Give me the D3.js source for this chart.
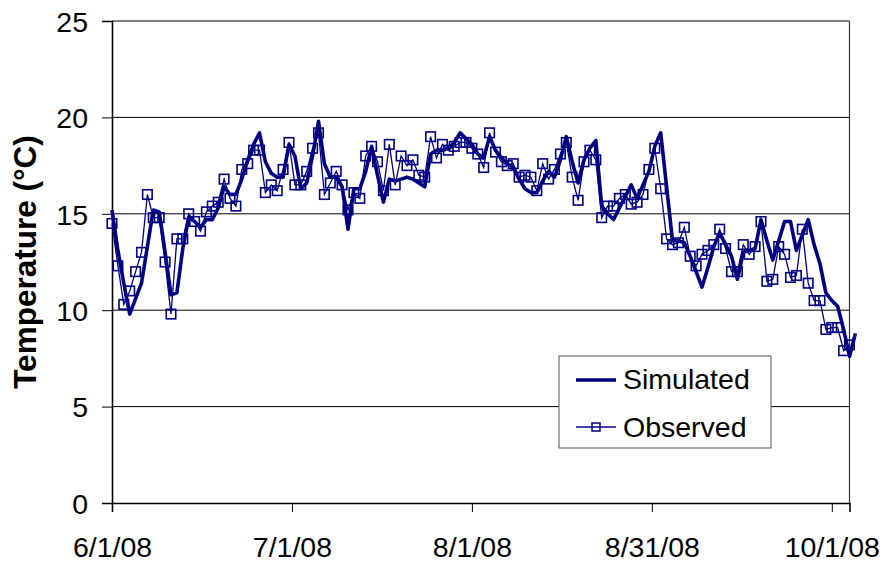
<!DOCTYPE html>
<html>
<head>
<meta charset="utf-8">
<script src="https://cdnjs.cloudflare.com/ajax/libs/d3/7.8.5/d3.min.js"></script>
<style>
  body { margin: 0; background: #fff; }
  svg { display: block; }
  text { font-family: "Liberation Sans", Arial, sans-serif; fill: #000; }
</style>
</head>
<body>
<script>
// daily values starting 6/1/08 (index = day number)
var simulated = [
  15.2, 13.1, 11.4, 9.8, 10.6, 11.4, 13.3, 15.2, 15.1, 13.0,
  10.8, 10.9, 13.2, 14.8, 14.6, 14.3, 14.7, 14.7, 15.3, 16.4,
  16.0, 16.0, 16.8, 17.8, 18.6, 19.2, 17.7, 17.1, 16.9, 16.9,
  18.6, 18.0, 16.3, 16.6, 18.0, 19.8, 17.6, 16.9, 16.9, 16.4,
  14.2, 16.3, 16.3, 17.2, 18.5, 17.0, 15.6, 16.8, 16.7, 16.8,
  16.9, 16.8, 16.6, 16.4, 18.1, 18.3, 18.3, 18.4, 18.7, 19.2,
  18.9, 18.6, 18.1, 17.9, 19.0, 18.3, 17.9, 17.6, 17.4, 16.8,
  16.3, 16.1, 16.1, 16.7, 17.2, 16.9, 17.8, 19.0, 17.7, 16.6,
  17.8, 18.4, 18.8, 15.4, 15.0, 14.7, 15.3, 15.9, 16.5, 15.8,
  16.5, 17.2, 18.5, 19.2, 16.4, 13.6, 13.6, 13.5, 12.8, 12.0,
  11.2, 12.2, 13.3, 14.0, 13.4, 12.8, 11.6, 13.0, 13.1, 13.2,
  14.7, 13.6, 12.6, 13.6, 14.6, 14.6, 13.1, 13.9, 14.7, 13.4,
  12.4, 10.9, 10.5, 10.2, 9.0, 7.6, 8.8
];
var observed = [
  14.5, 12.3, 10.3, 11.0, 12.0, 13.0, 16.0, 14.8, 14.8, 12.5,
  9.8, 13.7, 13.7, 15.0, 14.6, 14.1, 15.1, 15.4, 15.6, 16.8,
  15.8, 15.4, 17.3, 17.6, 18.3, 18.3, 16.1, 16.5, 16.2, 17.3,
  18.7, 16.5, 16.5, 17.2, 18.4, 19.2, 16.0, 16.6, 17.2, 16.5,
  15.2, 16.1, 15.8, 18.0, 18.5, 17.7, 16.2, 18.6, 16.5, 18.0,
  17.5, 17.8, 17.0, 16.9, 19.0, 17.9, 18.6, 18.3, 18.5, 18.7,
  18.7, 18.4, 18.1, 17.4, 19.2, 18.2, 17.7, 17.5, 17.6, 16.9,
  17.0, 16.9, 16.2, 17.6, 16.8, 17.3, 18.1, 18.7, 16.9, 15.7,
  17.7, 18.3, 17.8, 14.8, 15.4, 15.4, 15.8, 16.0, 15.5, 15.6,
  16.0, 17.3, 18.4, 16.3, 13.7, 13.4, 13.5, 14.3, 12.8, 12.3,
  12.9, 13.1, 13.4, 14.2, 13.2, 12.0, 12.0, 13.4, 12.9, 13.3,
  14.6, 11.5, 11.6, 13.3, 12.9, 11.7, 11.8, 14.2, 11.4, 10.5,
  10.5, 9.0, 9.1, 9.1, 7.9, 8.2
];
var xTickDays = [0, 30.5, 61, 91.5, 122];
var xTickLabels = ["6/1/08", "7/1/08", "8/1/08", "8/31/08", "10/1/08"];
var yTicks = [0, 5, 10, 15, 20, 25];
var seriesNames = ["Simulated", "Observed"];

var width = 885, height = 565;
var plotLeft = 112, plotRight = 849.5, plotTop = 21, plotBottom = 503;
var navy = "#000080";

var svg = d3.select("body").append("svg")
  .attr("width", width)
  .attr("height", height);

var x = d3.scaleLinear().domain([0, 125]).range([plotLeft, plotRight]);
var y = d3.scaleLinear().domain([0, 25]).range([plotBottom, plotTop]);

// gridlines
svg.append("g")
  .selectAll("line")
  .data(yTicks.filter(function(d) { return d > 0; }))
  .enter().append("line")
  .attr("x1", plotLeft).attr("x2", plotRight)
  .attr("y1", function(d) { return y(d); })
  .attr("y2", function(d) { return y(d); })
  .attr("stroke", "#000")
  .attr("stroke-width", 1);

// right border of plot area
svg.append("line")
  .attr("x1", plotRight).attr("x2", plotRight)
  .attr("y1", plotTop).attr("y2", plotBottom)
  .attr("stroke", "#333")
  .attr("stroke-width", 1.2);

// axes
var yAxis = svg.append("g")
  .attr("transform", "translate(" + plotLeft + ",0)")
  .call(d3.axisLeft(y).tickValues(yTicks).tickSize(10).tickPadding(14));
var xAxis = svg.append("g")
  .attr("transform", "translate(0," + plotBottom + ")")
  .call(d3.axisBottom(x).tickValues(xTickDays).tickSize(9).tickPadding(25)
    .tickFormat(function(d, i) { return xTickLabels[i]; }));

[yAxis, xAxis].forEach(function(g) {
  g.select(".domain").attr("stroke", "#000").attr("stroke-width", 1.6);
  g.selectAll(".tick line").attr("stroke", "#000").attr("stroke-width", 1);
  g.selectAll("text")
    .style("font-family", '"Liberation Sans", Arial, sans-serif')
    .style("font-size", "28.5px")
    .attr("fill", "#000");
});
yAxis.selectAll("text").attr("dy", "0.36em");
xAxis.selectAll("text").attr("dy", "0.71em");

// y axis title
svg.append("text")
  .attr("transform", "translate(36," + ((plotTop + plotBottom) / 2) + ") rotate(-90)")
  .attr("text-anchor", "middle")
  .style("font-size", "31.5px")
  .style("font-weight", "bold")
  .text("Temperature (\u00B0C)");

var line = d3.line()
  .x(function(d, i) { return x(i); })
  .y(function(d) { return y(d); });

// simulated (thick line)
svg.append("path")
  .datum(simulated)
  .attr("d", line)
  .attr("fill", "none")
  .attr("stroke", navy)
  .attr("stroke-width", 3.6)
  .attr("stroke-linejoin", "round");

// observed (thin line with hollow squares)
svg.append("path")
  .datum(observed)
  .attr("d", line)
  .attr("fill", "none")
  .attr("stroke", navy)
  .attr("stroke-width", 1.3);

var sq = 9.5;
svg.append("g")
  .selectAll("rect")
  .data(observed)
  .enter().append("rect")
  .attr("x", function(d, i) { return x(i) - sq / 2; })
  .attr("y", function(d) { return y(d) - sq / 2; })
  .attr("width", sq)
  .attr("height", sq)
  .attr("fill", "none")
  .attr("stroke", navy)
  .attr("stroke-width", 1.6);

// legend
var lg = svg.append("g").attr("transform", "translate(559,356)");
lg.append("rect")
  .attr("width", 212).attr("height", 92)
  .attr("fill", "#fff")
  .attr("stroke", "#555")
  .attr("stroke-width", 1);
lg.append("line")
  .attr("x1", 17).attr("x2", 57).attr("y1", 24).attr("y2", 24)
  .attr("stroke", navy).attr("stroke-width", 3.6);
lg.append("line")
  .attr("x1", 17).attr("x2", 57).attr("y1", 71).attr("y2", 71)
  .attr("stroke", navy).attr("stroke-width", 1.3);
lg.append("rect")
  .attr("x", 37 - 4).attr("y", 71 - 4)
  .attr("width", 8).attr("height", 8)
  .attr("fill", "none")
  .attr("stroke", navy).attr("stroke-width", 1.5);
lg.selectAll("text.leg")
  .data(seriesNames)
  .enter().append("text")
  .attr("class", "leg")
  .attr("x", 64)
  .attr("y", function(d, i) { return 33 + i * 48; })
  .style("font-size", "28.5px")
  .text(function(d) { return d; });
</script>
</body>
</html>
